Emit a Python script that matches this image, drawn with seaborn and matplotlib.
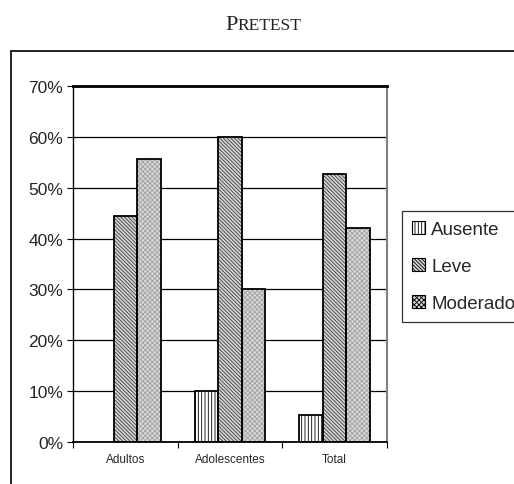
import matplotlib
matplotlib.use("Agg")
import matplotlib.pyplot as plt
from matplotlib.patches import Patch, Rectangle
from matplotlib.lines import Line2D
from matplotlib.ticker import PercentFormatter, FixedLocator
import seaborn as sns
import pandas as pd

# Data
groups = ["Adultos", "Adolescentes", "Total"]
levels = ["Ausente", "Leve", "Moderado"]
ausente = [0.0, 0.10, 0.053]
leve = [0.444, 0.60, 0.526]
moderado = [0.556, 0.30, 0.421]
yticks = [0.0, 0.1, 0.2, 0.3, 0.4, 0.5, 0.6, 0.7]

df = pd.DataFrame({
    "grupo": groups * 3,
    "nivel": [levels[0]] * 3 + [levels[1]] * 3 + [levels[2]] * 3,
    "valor": ausente + leve + moderado,
})

# fill, hatch colour, hatch pattern per level
styles = {
    "Ausente": ("white", "black", "|||||"),
    "Leve": ("#d4d4d4", "#3c3c3c", "\\\\\\\\\\\\\\\\\\"),
    "Moderado": ("#d8d8d8", "#a0a0a0", "xxxxxxx"),
}

sns.set_style("white")
plt.rcParams["font.family"] = ["Liberation Sans", "DejaVu Sans"]
plt.rcParams["hatch.linewidth"] = 0.6

fig = plt.figure(figsize=(5.14, 4.85), dpi=100)
ax = fig.add_axes([0.142, 0.0866, 0.611, 0.734])

sns.barplot(data=df, x="grupo", y="valor", hue="nivel", order=groups,
            hue_order=levels, width=0.675, ax=ax, legend=False, errorbar=None)

for cont, lvl in zip(ax.containers, levels):
    face, hcol, hatch = styles[lvl]
    for p in cont.patches:
        p.set_facecolor(face)
        p.set_edgecolor(hcol)
        p.set_hatch(hatch)
        p.set_linewidth(0)
        if p.get_height() > 0:
            ax.add_patch(Rectangle((p.get_x(), p.get_y()), p.get_width(),
                                   p.get_height(), fill=False,
                                   edgecolor="black", linewidth=1.3, zorder=3))

ax.set_xlim(-0.5, 2.5)
ax.set_ylim(0, 0.7)
ax.set_yticks(yticks)
ax.yaxis.set_major_formatter(PercentFormatter(1.0, decimals=0))
ax.grid(axis="y", color="black", linewidth=0.9)
ax.set_axisbelow(True)
ax.set_xlabel("")
ax.set_ylabel("")

ax.tick_params(axis="y", which="major", direction="out", length=4, width=0.8,
               color="black", labelsize=12.5, pad=3, left=True)
ax.tick_params(axis="x", which="major", length=0, labelsize=8.5, pad=8)
ax.xaxis.set_minor_locator(FixedLocator([-0.5, 0.5, 1.5, 2.5]))
ax.tick_params(axis="x", which="minor", direction="out", length=4, width=0.8,
               color="black", bottom=True)

for side in ["left", "bottom"]:
    ax.spines[side].set_color("black")
    ax.spines[side].set_linewidth(1.0)
ax.spines["top"].set_color("black")
ax.spines["top"].set_linewidth(2.0)
ax.spines["right"].set_color("#808080")
ax.spines["right"].set_linewidth(1.5)
ax.spines["bottom"].set_linewidth(1.3)

# Legend with outlined swatches
handles = [Patch(facecolor=styles[l][0], edgecolor="black",
                 hatch=styles[l][2], linewidth=0.8) for l in levels]
leg = fig.legend(handles, levels, loc="upper left",
                 bbox_to_anchor=(402 / 514, 1 - 212 / 485), fontsize=13.5,
                 frameon=True, fancybox=False, handlelength=0.7,
                 handleheight=0.7, handletextpad=0.3, labelspacing=1.05,
                 borderpad=0.55, borderaxespad=0)
leg.get_frame().set_edgecolor("black")
leg.get_frame().set_linewidth(0.9)

# Outer frame around the chart
fig.add_artist(Line2D([11 / 514, 11 / 514], [0, 1 - 52 / 485], color="#222222",
                      linewidth=1.4, transform=fig.transFigure))
fig.add_artist(Line2D([11 / 514, 1], [1 - 52 / 485, 1 - 52 / 485],
                      color="#222222", linewidth=1.4, transform=fig.transFigure))

# Title in small capitals
fig.text(0.4385, 1 - 30 / 485, "P", fontsize=16, family="Liberation Serif",
         ha="left", va="baseline", color="#222222")
fig.text(0.4385 + 12.5 / 514, 1 - 30 / 485, "RETEST", fontsize=12.5,
         family="Liberation Serif", ha="left", va="baseline", color="#222222")

fig.savefig("out.png", dpi=100)
